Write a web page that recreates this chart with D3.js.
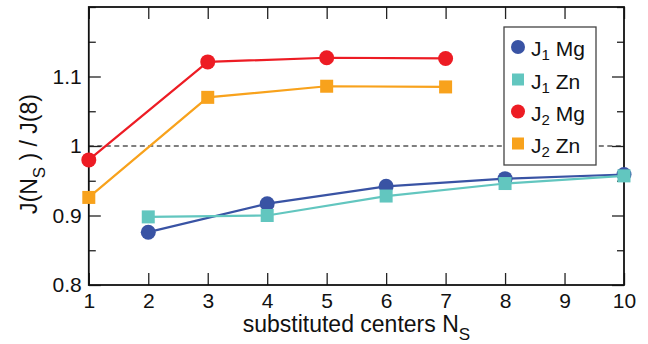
<!DOCTYPE html>
<html>
<head>
<meta charset="utf-8">
<script src="https://cdn.jsdelivr.net/npm/d3@7/dist/d3.min.js"></script>
<style>
  html, body { margin: 0; padding: 0; background: #fff; }
  svg { display: block; font-family: "Liberation Sans", Arial, Helvetica, sans-serif; }
</style>
</head>
<body>
<svg id="chart" width="648" height="344"></svg>
<script>
// ---- data ----
const xTickValues = [1, 2, 3, 4, 5, 6, 7, 8, 9, 10];
const yMajorTicks = [0.8, 0.9, 1.0, 1.1];
const yMajorLabels = ["0.8", "0.9", "1", "1.1"];
const yMinorTicks = [0.85, 0.95, 1.05, 1.15, 1.2];

const j1X = [2, 4, 6, 8, 10];
const j1MgY = [0.876, 0.917, 0.942, 0.953, 0.959];
const j1ZnY = [0.898, 0.900, 0.928, 0.946, 0.957];
const j2X = [1, 3, 5, 7];
const j2MgY = [0.980, 1.121, 1.127, 1.126];
const j2ZnY = [0.926, 1.070, 1.086, 1.085];

const seriesNames = ["J1 Mg", "J1 Zn", "J2 Mg", "J2 Zn"];
const seriesSub = ["1", "1", "2", "2"];
const seriesEl = ["Mg", "Zn", "Mg", "Zn"];
const seriesColors = ["#3953a4", "#62c6bf", "#ed1c24", "#f8a21c"];
const seriesShapes = ["circle", "square", "circle", "square"];
const referenceValue = 1.0;

const series = [
  { x: j1X, y: j1MgY },
  { x: j1X, y: j1ZnY },
  { x: j2X, y: j2MgY },
  { x: j2X, y: j2ZnY }
];

// ---- layout ----
const L = 88.8, R = 624, T = 7, B = 285;
const svg = d3.select("#chart");
const x = d3.scaleLinear().domain([1, 10]).range([L, R]);
const y = d3.scaleLinear().domain([0.8, 1.2]).range([B, T]);

// dashed reference line
svg.append("line")
  .attr("x1", L).attr("x2", R)
  .attr("y1", y(referenceValue)).attr("y2", y(referenceValue))
  .attr("stroke", "#000").attr("stroke-width", 1.2)
  .attr("stroke-dasharray", "5,3.5");

// axes (ticks inward)
const axisFont = 21;
const gB = svg.append("g").attr("transform", `translate(0,${B})`)
  .call(d3.axisBottom(x).tickValues(xTickValues).tickFormat(d3.format("d"))
    .tickSizeInner(-12).tickSizeOuter(0).tickPadding(8));
const gT = svg.append("g").attr("transform", `translate(0,${T})`)
  .call(d3.axisTop(x).tickValues(xTickValues).tickFormat("")
    .tickSizeInner(-12).tickSizeOuter(0));
const gL = svg.append("g").attr("transform", `translate(${L},0)`)
  .call(d3.axisLeft(y).tickValues(yMajorTicks).tickFormat((d, i) => yMajorLabels[i])
    .tickSizeInner(-12).tickSizeOuter(0).tickPadding(7));
const gLm = svg.append("g").attr("transform", `translate(${L},0)`)
  .call(d3.axisLeft(y).tickValues(yMinorTicks).tickFormat("")
    .tickSizeInner(-7).tickSizeOuter(0));
const gR = svg.append("g").attr("transform", `translate(${R},0)`)
  .call(d3.axisRight(y).tickValues(yMajorTicks).tickFormat("")
    .tickSizeInner(-12).tickSizeOuter(0));
const gRm = svg.append("g").attr("transform", `translate(${R},0)`)
  .call(d3.axisRight(y).tickValues(yMinorTicks).tickFormat("")
    .tickSizeInner(-7).tickSizeOuter(0));

[gB, gT, gL, gLm, gR, gRm].forEach(g => {
  g.select(".domain").remove();
  g.selectAll(".tick line").attr("stroke", "#222").attr("stroke-width", 1.3);
  g.selectAll(".tick text").attr("fill", "#111").attr("font-size", axisFont)
    .attr("font-family", "'Liberation Sans', Arial, Helvetica, sans-serif");
});

// frame
svg.append("rect")
  .attr("x", L).attr("y", T).attr("width", R - L).attr("height", B - T)
  .attr("fill", "none").attr("stroke", "#111").attr("stroke-width", 1.8);

// series
const line = d3.line().x(d => x(d[0])).y(d => y(d[1]));
series.forEach((s, i) => {
  const pts = s.x.map((xv, j) => [xv, s.y[j]]);
  svg.append("path").datum(pts)
    .attr("d", line).attr("fill", "none")
    .attr("stroke", seriesColors[i]).attr("stroke-width", 2.2);
  const g = svg.append("g");
  if (seriesShapes[i] === "circle") {
    g.selectAll("circle").data(pts).join("circle")
      .attr("cx", d => x(d[0])).attr("cy", d => y(d[1])).attr("r", 7.5)
      .attr("fill", seriesColors[i]);
  } else {
    const sz = 13;
    g.selectAll("rect").data(pts).join("rect")
      .attr("x", d => x(d[0]) - sz / 2).attr("y", d => y(d[1]) - sz / 2)
      .attr("width", sz).attr("height", sz)
      .attr("fill", seriesColors[i]);
  }
});

// legend
const lg = svg.append("g");
lg.append("rect").attr("x", 504).attr("y", 27).attr("width", 92).attr("height", 138)
  .attr("fill", "#fff").attr("stroke", "#444").attr("stroke-width", 1.3);
const rowY = [47, 79.5, 111.5, 143.5];
seriesNames.forEach((n, i) => {
  const cy = rowY[i];
  if (seriesShapes[i] === "circle") {
    lg.append("circle").attr("cx", 518).attr("cy", cy).attr("r", 7).attr("fill", seriesColors[i]);
  } else {
    lg.append("rect").attr("x", 518 - 6).attr("y", cy - 6).attr("width", 12).attr("height", 12)
      .attr("fill", seriesColors[i]);
  }
  const t = lg.append("text").attr("x", 531).attr("y", cy + 9)
    .attr("font-size", 21).attr("fill", "#111");
  t.append("tspan").text("J");
  t.append("tspan").attr("font-size", 15).attr("dy", 4).text(seriesSub[i]);
  t.append("tspan").attr("dy", -4).text("\u00a0" + seriesEl[i]);
});

// axis titles
const xt = svg.append("text").attr("x", (L + R) / 2).attr("y", 332)
  .attr("text-anchor", "middle").attr("font-size", 23).attr("fill", "#111");
xt.append("tspan").text("substituted centers N");
xt.append("tspan").attr("font-size", 17).attr("dy", 8).text("S");

const yt = svg.append("text")
  .attr("transform", `translate(37,${(T + B) / 2 + 8}) rotate(-90)`)
  .attr("text-anchor", "middle").attr("font-size", 23).attr("fill", "#111");
yt.append("tspan").text("J(N");
yt.append("tspan").attr("font-size", 17).attr("dy", 8).text("S");
yt.append("tspan").attr("dy", -8).text("\u00a0) / J(8)");
</script>
</body>
</html>
